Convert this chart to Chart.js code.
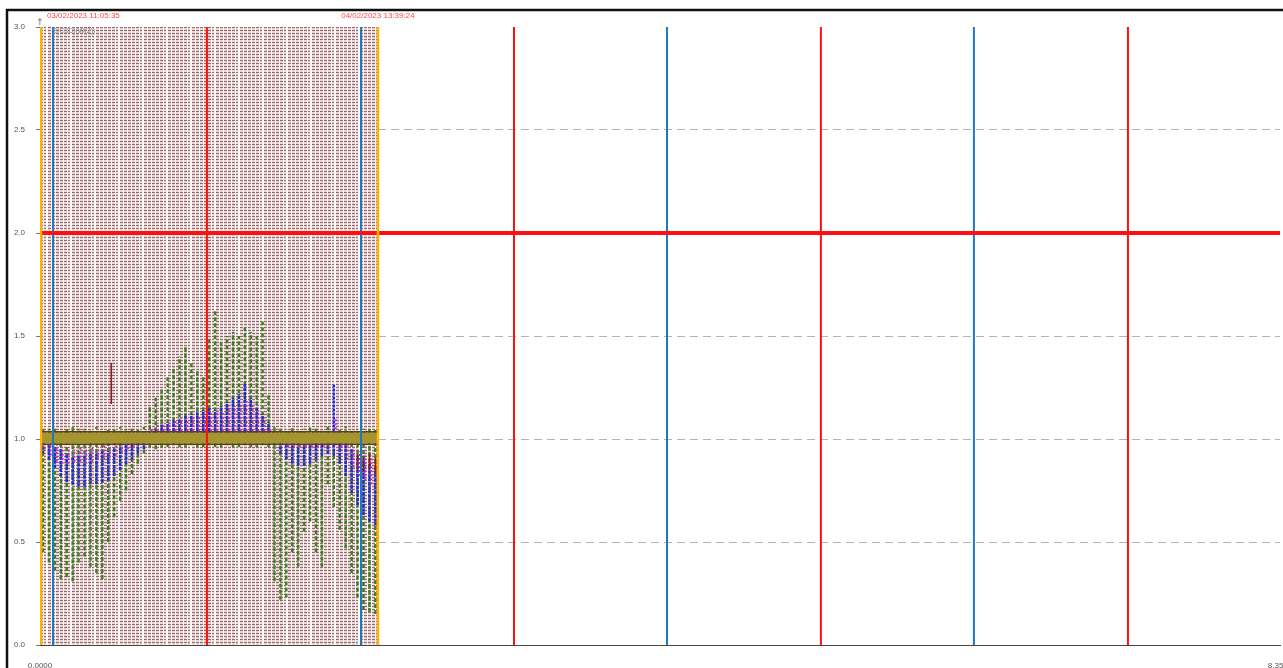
<!DOCTYPE html>
<html>
<head>
<meta charset="utf-8">
<script src="https://cdn.jsdelivr.net/npm/chart.js@4.4.1/dist/chart.umd.min.js"></script>
<style>
  body { margin: 0; background: #fff; }
  #wrap { position: relative; width: 1283px; height: 668px; }
</style>
</head>
<body>
<div id="wrap"><canvas id="chart" width="1283" height="668"></canvas></div>
<script>
// axis range and tick labels
const xMax = 8.3556;
const yTicks = [0, 0.5, 1.0, 1.5, 2.0, 2.5, 3.0];
const limitY = 2.0;

// marker positions (x units)
const orangeX = [0.0067, 2.277];
const blueX = [0.0876, 2.163, 4.225, 6.293, 8.362];
const redX = [1.125, 3.194, 5.262, 7.331];
const markerLabels = ['03/02/2023 11:05:35', '04/02/2023 13:39:24'];

// sample times inside the recorded window
const t = [0.02, 0.06, 0.10, 0.14, 0.18, 0.22, 0.26, 0.30, 0.34, 0.38,
           0.42, 0.46, 0.50, 0.54, 0.58, 0.62, 0.66, 0.70, 0.74, 0.78,
           0.82, 0.86, 0.90, 0.94, 0.98, 1.02, 1.06, 1.10, 1.14, 1.18,
           1.22, 1.26, 1.30, 1.34, 1.38, 1.42, 1.46, 1.50, 1.54, 1.58,
           1.62, 1.66, 1.70, 1.74, 1.78, 1.82, 1.86, 1.90, 1.94, 1.98,
           2.02, 2.06, 2.10, 2.14, 2.18, 2.22, 2.26];

const greenLo = [0.45, 0.40, 0.36, 0.32, 0.33, 0.31, 0.40, 0.43, 0.38, 0.35,
                 0.32, 0.50, 0.62, 0.70, 0.75, 0.83, 0.88, 0.93, 0.96, 0.95,
                 0.96, 0.96, 0.97, 0.96, 0.96, 0.97, 0.96, 0.96, 0.97, 0.96,
                 0.96, 0.97, 0.96, 0.96, 0.97, 0.96, 0.96, 0.97, 0.96, 0.31,
                 0.22, 0.23, 0.45, 0.38, 0.55, 0.60, 0.45, 0.38, 0.78, 0.67,
                 0.56, 0.47, 0.35, 0.23, 0.17, 0.16, 0.15];
const greenHi = [1.05, 1.05, 1.06, 1.05, 1.05, 1.06, 1.05, 1.05, 1.05, 1.06,
                 1.05, 1.05, 1.05, 1.06, 1.05, 1.05, 1.05, 1.06, 1.16, 1.20,
                 1.24, 1.30, 1.35, 1.40, 1.45, 1.37, 1.33, 1.30, 1.48, 1.63,
                 1.47, 1.50, 1.52, 1.50, 1.54, 1.52, 1.50, 1.57, 1.22, 1.06,
                 1.05, 1.05, 1.06, 1.05, 1.05, 1.06, 1.05, 1.05, 1.06, 1.05,
                 1.05, 1.06, 1.05, 1.05, 1.05, 1.05, 1.05];

const blueLo = [0.93, 0.90, 0.86, 0.82, 0.79, 0.78, 0.77, 0.77, 0.78, 0.78,
                0.79, 0.80, 0.82, 0.85, 0.88, 0.90, 0.93, 0.95, 0.98, 0.99,
                1.00, 1.00, 1.00, 1.00, 1.00, 1.00, 1.00, 1.00, 1.00, 1.00,
                1.00, 1.00, 1.00, 1.00, 1.00, 1.00, 1.00, 1.00, 1.00, 0.97,
                0.93, 0.90, 0.88, 0.87, 0.87, 0.88, 0.90, 0.92, 0.93, 0.92,
                0.88, 0.82, 0.74, 0.68, 0.63, 0.60, 0.58];
const blueHi = [0.98, 0.97, 0.96, 0.95, 0.93, 0.92, 0.92, 0.92, 0.93, 0.93,
                0.94, 0.94, 0.95, 0.96, 0.97, 0.98, 0.99, 1.00, 1.04, 1.05,
                1.07, 1.08, 1.09, 1.10, 1.12, 1.12, 1.13, 1.14, 1.15, 1.14,
                1.16, 1.18, 1.20, 1.22, 1.27, 1.20, 1.15, 1.12, 1.08, 1.03,
                0.99, 0.98, 0.97, 0.96, 0.97, 0.97, 0.98, 0.99, 0.99, 1.27,
                0.98, 0.97, 0.95, 0.92, 0.90, 0.88, 0.86];

const magLo = [0.95, 0.92, 0.89, 0.88, 0.88, 0.89, 0.89, 0.88, 0.89, 0.90,
               0.90, 0.91, 0.92, 0.93, 0.95, 0.96, 0.98, 0.99, 1.00, 1.00,
               1.00, 1.00, 1.00, 1.00, 1.00, 1.00, 1.00, 1.00, 1.00, 1.00,
               1.00, 1.00, 1.00, 1.00, 1.00, 1.00, 1.00, 1.00, 1.00, 0.99,
               0.97, 0.96, 0.96, 0.96, 0.96, 0.96, 0.96, 0.96, 0.97, 0.97,
               0.94, 0.90, 0.86, 0.82, 0.80, 0.78, 0.78];
const magHi = [0.99, 0.98, 0.97, 0.96, 0.95, 0.95, 0.96, 0.95, 0.96, 0.96,
               0.97, 0.97, 0.98, 0.98, 0.99, 1.00, 1.01, 1.02, 1.05, 1.07,
               1.08, 1.08, 1.09, 1.10, 1.10, 1.11, 1.11, 1.12, 1.13, 1.14,
               1.13, 1.15, 1.16, 1.17, 1.19, 1.17, 1.14, 1.10, 1.06, 1.03,
               1.01, 1.00, 1.00, 1.00, 1.00, 1.00, 1.00, 1.00, 1.02, 1.10,
               0.99, 0.98, 0.96, 0.94, 0.92, 0.92, 0.90];

const darkRedT = [0.48, 2.14, 2.18, 2.22, 2.26];
const darkRedLo = [1.17, 0.86, 0.84, 0.85, 0.83];
const darkRedHi = [1.37, 0.93, 0.92, 0.93, 0.91];

// reference band around 1.0
const bandUpper = 1.035;
const bandLower = 0.975;

function segments(xs, lo, hi) {
  const out = [];
  xs.forEach((x, i) => {
    out.push({x: x, y: lo[i]}, {x: x, y: hi[i]}, {x: x, y: null});
  });
  return out;
}

function verticals(xs) {
  return segments(xs, xs.map(() => yTicks[0]), xs.map(() => yTicks[yTicks.length - 1]));
}

const ctx = document.getElementById('chart').getContext('2d');

// hatch fill for the recorded window
const tile = document.createElement('canvas');
tile.width = 24;
tile.height = 3;
const tg = tile.getContext('2d');
tg.fillStyle = '#ead6d6';
tg.fillRect(0, 0, 24, 3);
tg.fillStyle = '#946a6a';
tg.fillRect(0, 0, 24, 1);
tg.fillStyle = '#ffffff';
for (let i = 3; i < 24; i += 4) tg.fillRect(i, 0, 1, 3);
tg.fillRect(22, 0, 1, 3);
const hatch = ctx.createPattern(tile, 'repeat');

const lineBase = {
  pointRadius: 0,
  tension: 0,
  spanGaps: false,
  fill: false
};

const overlay = {
  id: 'overlay',
  afterDraw(chart) {
    const c = chart.ctx;
    const xs = chart.scales.x;
    const ys = chart.scales.y;
    c.save();
    // frame
    c.strokeStyle = '#111';
    c.lineWidth = 2.5;
    c.beginPath();
    c.moveTo(7, 668);
    c.lineTo(7, 10);
    c.lineTo(1283, 10);
    c.stroke();
    // marker labels
    c.font = '8px "Liberation Sans", Arial, sans-serif';
    c.fillStyle = '#ff4a4a';
    c.textBaseline = 'alphabetic';
    c.textAlign = 'left';
    c.fillText(markerLabels[0], xs.getPixelForValue(orangeX[0]) + 6, 18);
    c.textAlign = 'center';
    c.fillText(markerLabels[1], xs.getPixelForValue(orangeX[1]), 18);
    // axis arrows
    c.fillStyle = '#666';
    c.font = '9px "DejaVu Sans", sans-serif';
    c.fillText('\u2191', xs.left, ys.top - 2);
    c.font = '7px "Liberation Sans", Arial, sans-serif';
    c.fillStyle = '#888';
    c.textAlign = 'left';
    c.fillText('2(C3D)(W(2))', xs.left + 13, ys.top + 6);
    c.restore();
  }
};

new Chart(ctx, {
  type: 'line',
  data: {
    datasets: [
      {
        ...lineBase,
        label: 'window',
        data: [{x: orangeX[0], y: yTicks[yTicks.length - 1]}, {x: orangeX[1], y: yTicks[yTicks.length - 1]}],
        borderWidth: 0,
        borderColor: 'rgba(0,0,0,0)',
        backgroundColor: hatch,
        fill: 'origin',
        order: 100
      },
      {
        ...lineBase,
        label: 'green',
        data: segments(t, greenLo, greenHi),
        borderColor: '#3f7d22',
        borderWidth: 2.5,
        borderDash: [4, 2],
        order: 20
      },
      {
        ...lineBase,
        label: 'blue',
        data: segments(t, blueLo, blueHi),
        borderColor: '#2626dc',
        borderWidth: 2.5,
        borderDash: [3, 1],
        order: 19
      },
      {
        ...lineBase,
        label: 'magenta',
        data: segments(t.map(v => v + 0.012), magLo, magHi),
        borderColor: '#c42ac4',
        borderWidth: 2,
        borderDash: [2, 2],
        order: 18
      },
      {
        ...lineBase,
        label: 'darkred',
        data: segments(darkRedT, darkRedLo, darkRedHi),
        borderColor: '#8a1c1c',
        borderWidth: 1.5,
        order: 17
      },
      {
        ...lineBase,
        label: 'band',
        data: [{x: orangeX[0], y: (bandUpper + bandLower) / 2}, {x: orangeX[1], y: (bandUpper + bandLower) / 2}],
        borderColor: '#a4952e',
        borderWidth: 11,
        order: 16
      },
      {
        ...lineBase,
        label: 'bandEdges',
        data: [{x: orangeX[0], y: bandUpper}, {x: orangeX[1], y: bandUpper}, {x: orangeX[1], y: null},
               {x: orangeX[0], y: bandLower}, {x: orangeX[1], y: bandLower}],
        borderColor: '#5e3c1c',
        borderWidth: 1.5,
        order: 15
      },
      {
        ...lineBase,
        label: 'blueMarkers',
        data: verticals(blueX),
        borderColor: '#1f78c0',
        borderWidth: 2,
        clip: false,
        order: 4
      },
      {
        ...lineBase,
        label: 'redMarkers',
        data: verticals(redX),
        borderColor: '#ff1010',
        borderWidth: 2,
        order: 3
      },
      {
        ...lineBase,
        label: 'limit',
        data: [{x: 0, y: limitY}, {x: xMax, y: limitY}],
        borderColor: '#ff1010',
        borderWidth: 4,
        clip: false,
        order: 2
      },
      {
        ...lineBase,
        label: 'orangeMarkers',
        data: verticals(orangeX),
        borderColor: '#ffb300',
        borderWidth: 2.5,
        order: 1
      }
    ]
  },
  options: {
    responsive: false,
    animation: false,
    events: [],
    layout: { padding: { top: 27, right: 3, left: 0, bottom: 0 } },
    plugins: {
      legend: { display: false },
      tooltip: { enabled: false }
    },
    scales: {
      x: {
        type: 'linear',
        min: 0,
        max: xMax,
        grid: { display: false },
        border: { display: true, color: '#444', width: 1 },
        afterBuildTicks: axis => { axis.ticks = [{value: 0}, {value: xMax}]; },
        afterFit: axis => { axis.height = 23; axis.paddingLeft = 0; axis.paddingRight = 0; },
        ticks: {
          autoSkip: false,
          maxRotation: 0,
          padding: 8,
          color: '#555',
          font: { family: 'Liberation Sans', size: 8 },
          callback: v => Number(v).toFixed(4)
        }
      },
      y: {
        min: 0,
        max: 3,
        afterBuildTicks: axis => { axis.ticks = yTicks.map(v => ({value: v})); },
        afterFit: axis => { axis.width = 40; },
        border: { display: false, dash: [8, 5] },
        grid: {
          drawTicks: true,
          tickLength: 4,
          tickColor: '#777',
          lineWidth: 1,
          color: c => (c.tick && [0.5, 1.0, 1.5, 2.5].includes(c.tick.value)) ? '#b4b4b4' : 'rgba(0,0,0,0)'
        },
        ticks: {
          padding: 11,
          color: '#555',
          font: { family: 'Liberation Sans', size: 8 },
          callback: v => Number(v).toFixed(1)
        }
      }
    }
  },
  plugins: [overlay]
});
</script>
</body>
</html>
